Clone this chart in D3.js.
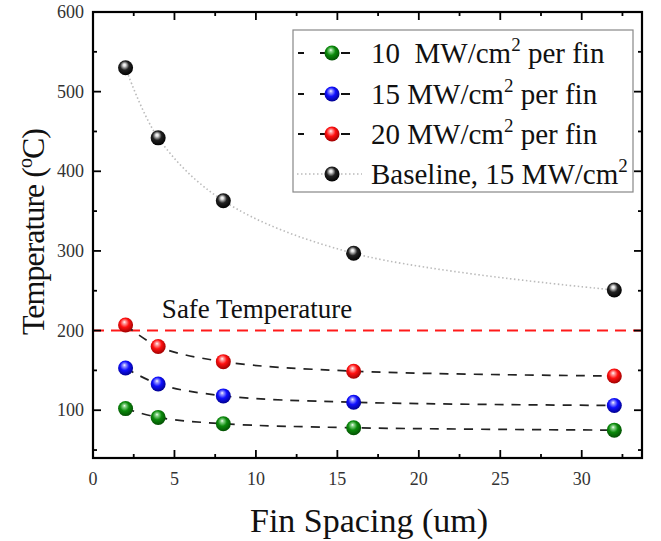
<!DOCTYPE html>
<html><head><meta charset="utf-8">
<script src="https://cdn.jsdelivr.net/npm/d3@7"></script>
<style>body{margin:0;background:#fff}text{font-family:"Liberation Serif","DejaVu Serif",serif}</style>
</head><body>
<svg id="c" width="661" height="541"></svg>
<script>
const finSpacing = [2, 4, 8, 16, 32];
const temp10 = [102, 91, 83, 78, 75];
const temp15 = [153, 133, 118, 110, 106];
const temp20 = [207, 180, 161, 149, 143];
const baseline = [530, 442, 363, 297, 251];
const safeTemp = 200;
const xTicks = [0, 5, 10, 15, 20, 25, 30];
const yTicks = [100, 200, 300, 400, 500, 600];
const seriesNames = ["10\u00a0\u00a0MW/cm", "15 MW/cm", "20 MW/cm", "Baseline, 15 MW/cm"];

const svg = d3.select("#c");
const m = {l: 93, r: 642, t: 12, b: 458};
const x = d3.scaleLinear().domain([0, 33.7]).range([m.l, m.r]);
const y = d3.scaleLinear().domain([40, 600]).range([m.b, m.t]);

// gradients
const defs = svg.append("defs");
const cols = {green: ["#8fd88f", "#0b8a0b", "#034d03"], blue: ["#a0a0ff", "#1010ff", "#00008a"], red: ["#ffa8a8", "#ff1010", "#9a0000"], black: ["#e0e0e0", "#222", "#000"]};
Object.entries(cols).forEach(([k, c]) => {
  const g = defs.append("radialGradient").attr("id", "g" + k).attr("cx", "0.45").attr("cy", "0.42").attr("r", "0.6").attr("fx", "0.42").attr("fy", "0.3");
  g.append("stop").attr("offset", "0").attr("stop-color", "#fff");
  g.append("stop").attr("offset", "0.15").attr("stop-color", c[0]);
  g.append("stop").attr("offset", "0.5").attr("stop-color", c[1]);
  g.append("stop").attr("offset", "1").attr("stop-color", c[2]);
});

// safe line
svg.append("line").attr("x1", m.l).attr("x2", m.r).attr("y1", y(safeTemp)).attr("y2", y(safeTemp))
  .attr("stroke", "#ff1a1a").attr("stroke-width", 2).attr("stroke-dasharray", "11,7");
svg.append("text").attr("x", 257).attr("y", 318).attr("text-anchor", "middle")
  .attr("font-size", 27).attr("fill", "#111").text("Safe Temperature");

const line = d3.line().x((d, i) => x(finSpacing[i])).y(d => y(d)).curve(d3.curveCatmullRom);
const series = [
  {v: temp10, c: "green", dash: "9,8", stroke: "#222", w: 1.7},
  {v: temp15, c: "blue", dash: "9,8", stroke: "#222", w: 1.7},
  {v: temp20, c: "red", dash: "9,8", stroke: "#222", w: 1.7},
  {v: baseline, c: "black", dash: "1.5,2.5", stroke: "#bbb", w: 1.6}
];
series.forEach(s => {
  svg.append("path").attr("d", line(s.v)).attr("fill", "none").attr("stroke", s.stroke)
    .attr("stroke-width", s.w).attr("stroke-dasharray", s.dash);
});
series.forEach(s => {
  svg.append("g").selectAll("circle").data(s.v).join("circle")
    .attr("cx", (d, i) => x(finSpacing[i])).attr("cy", d => y(d)).attr("r", 7.5)
    .attr("fill", "url(#g" + s.c + ")");
});

// axes frame
const ax = svg.append("g").attr("stroke", "#000");
ax.append("rect").attr("x", m.l).attr("y", m.t).attr("width", m.r - m.l).attr("height", m.b - m.t)
  .attr("fill", "none").attr("stroke-width", 2.2);
const xMinor = d3.range(2.5, 33.7, 5);
const yMinor = d3.range(50, 600, 100);
const tick = (x1, y1, x2, y2) => ax.append("line").attr("x1", x1).attr("y1", y1).attr("x2", x2).attr("y2", y2).attr("stroke-width", 1.8);
xTicks.forEach(t => { tick(x(t), m.b, x(t), m.b - 8); tick(x(t), m.t, x(t), m.t + 8); });
xMinor.forEach(t => { tick(x(t), m.b, x(t), m.b - 4); tick(x(t), m.t, x(t), m.t + 4); });
yTicks.forEach(t => { tick(m.l, y(t), m.l + 8, y(t)); tick(m.r, y(t), m.r - 8, y(t)); });
yMinor.forEach(t => { tick(m.l, y(t), m.l + 4, y(t)); tick(m.r, y(t), m.r - 4, y(t)); });
svg.append("g").selectAll("text").data(xTicks).join("text")
  .attr("x", d => x(d)).attr("y", 485).attr("text-anchor", "middle").attr("font-size", 18).attr("fill", "#333").text(d => d);
svg.append("g").selectAll("text").data(yTicks).join("text")
  .attr("x", 84).attr("y", d => y(d) + 6).attr("text-anchor", "end").attr("font-size", 18).attr("fill", "#333").text(d => d);

// titles
svg.append("text").attr("x", 369).attr("y", 532).attr("text-anchor", "middle").attr("font-size", 34).attr("fill", "#111").text("Fin Spacing (um)");
const yt = svg.append("text").attr("transform", `translate(44,232) rotate(-90)`).attr("text-anchor", "middle")
  .attr("font-size", 32).attr("letter-spacing", -1).attr("fill", "#111");
yt.append("tspan").text("Temperature (");
yt.append("tspan").attr("dy", -12).attr("font-size", 20).text("o");
yt.append("tspan").attr("dy", 12).text("C)");

// legend
const lg = svg.append("g");
lg.append("rect").attr("x", 293).attr("y", 30).attr("width", 340).attr("height", 162).attr("fill", "#fff").attr("stroke", "#888").attr("stroke-width", 1.2);
const rows = [53, 94, 134, 174];
const suffix = [" per fin", " per fin", " per fin", ""];
series.forEach((s, i) => {
  const yy = rows[i];
  if (i < 3) {
    [[298, 304], [320, 325], [341, 350]].forEach(([a, b]) =>
      lg.append("line").attr("x1", a).attr("x2", b).attr("y1", yy).attr("y2", yy).attr("stroke", "#111").attr("stroke-width", 2));
  } else {
    lg.append("line").attr("x1", 297).attr("x2", 362).attr("y1", yy).attr("y2", yy)
      .attr("stroke", s.stroke).attr("stroke-width", 1.4).attr("stroke-dasharray", "1.5,2.5");
  }
  lg.append("circle").attr("cx", 332).attr("cy", yy).attr("r", 7.5).attr("fill", "url(#g" + s.c + ")");
  const t = lg.append("text").attr("x", 371).attr("y", yy + 10).attr("font-size", 29).attr("fill", "#111");
  t.append("tspan").text(seriesNames[i]);
  t.append("tspan").attr("dy", -12).attr("font-size", 19).text("2");
  if (suffix[i]) t.append("tspan").attr("dy", 12).text(suffix[i]);
});
</script>
</body></html>
